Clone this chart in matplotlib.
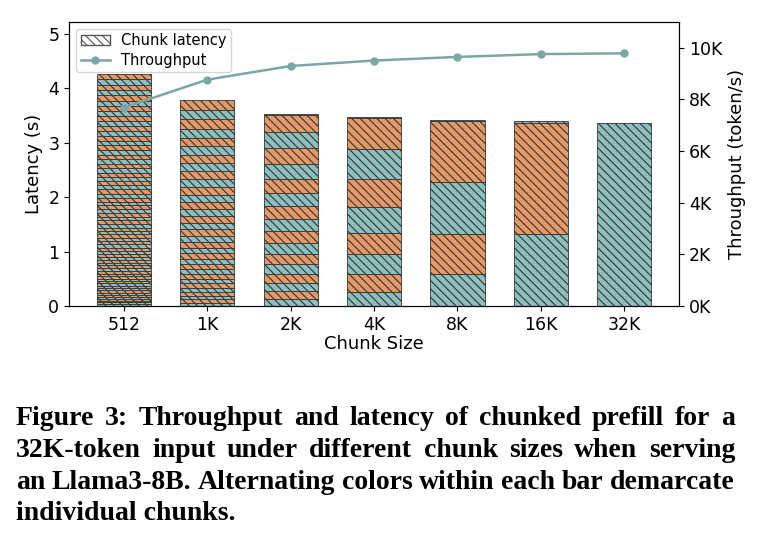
import matplotlib
matplotlib.use("Agg")
import matplotlib.pyplot as plt
from matplotlib.patches import Patch
from matplotlib.lines import Line2D

# chunk sizes on the x axis
chunk_labels = ["512", "1K", "2K", "4K", "8K", "16K", "32K"]

# per-chunk prefill latency (s), bottom chunk first
lat_512 = [0.032, 0.033, 0.034, 0.035, 0.037, 0.038, 0.039, 0.040,
           0.041, 0.042, 0.043, 0.044, 0.045, 0.046, 0.047, 0.049,
           0.050, 0.051, 0.052, 0.053, 0.054, 0.055, 0.056, 0.057,
           0.058, 0.060, 0.061, 0.062, 0.063, 0.064, 0.065, 0.066,
           0.067, 0.068, 0.069, 0.071, 0.072, 0.073, 0.074, 0.075,
           0.076, 0.077, 0.078, 0.079, 0.080, 0.082, 0.083, 0.084,
           0.085, 0.086, 0.087, 0.088, 0.089, 0.090, 0.091, 0.093,
           0.094, 0.095, 0.096, 0.097, 0.098, 0.099, 0.100, 0.101]
lat_1k = [0.060, 0.063, 0.067, 0.072, 0.075, 0.078, 0.083, 0.086,
          0.089, 0.094, 0.098, 0.101, 0.104, 0.109, 0.112, 0.116,
          0.121, 0.123, 0.127, 0.132, 0.134, 0.139, 0.143, 0.146,
          0.149, 0.154, 0.158, 0.161, 0.164, 0.169, 0.172, 0.176]
lat_2k = [0.13, 0.14, 0.15, 0.17, 0.18, 0.19, 0.20, 0.21,
          0.22, 0.24, 0.25, 0.26, 0.27, 0.29, 0.30, 0.31, 0.02]
lat_4k = [0.26, 0.32, 0.37, 0.40, 0.47, 0.51, 0.55, 0.58, 0.02]
lat_8k = [0.58, 0.75, 0.95, 1.11, 0.02]
lat_16k = [1.32, 2.05, 0.02]
lat_32k = [3.37]
chunk_latency = [lat_512, lat_1k, lat_2k, lat_4k, lat_8k, lat_16k, lat_32k]

# throughput (token/s)
throughput = [7680, 8760, 9290, 9500, 9640, 9750, 9780]

teal = "#8DBFBF"
orange = "#E39A68"
line_col = "#7BA6A6"

plt.rcParams["hatch.linewidth"] = 0.8
plt.rcParams["hatch.color"] = "#222222"

fig = plt.figure(figsize=(7.69, 5.45), dpi=100)
ax = fig.add_axes([0.0897, 0.4385, 0.7933, 0.5215])
ax2 = ax.twinx()

x = list(range(len(chunk_labels)))
for i, lats in enumerate(chunk_latency):
    bottom = 0.0
    for j, v in enumerate(lats):
        ax.bar(i, v, width=0.65, bottom=bottom,
               color=teal if j % 2 == 0 else orange,
               edgecolor="#333333", linewidth=0.6, hatch="\\\\\\\\")
        bottom += v

ax.set_ylim(0, 5.22)
ax.set_yticks([0, 1, 2, 3, 4, 5])
ax.set_xticks(x)
ax.set_xticklabels(chunk_labels)
ax.set_xlabel("Chunk Size", fontsize=13, labelpad=1)
ax.set_ylabel("Latency (s)", fontsize=13)
ax.tick_params(labelsize=12.5)

ax2.plot(x, throughput, color=line_col, marker="o", markersize=5, linewidth=1.8)
ax2.set_ylim(0, 11000)
ticks2 = [0, 2000, 4000, 6000, 8000, 10000]
ax2.set_yticks(ticks2)
ax2.set_yticklabels(["%dK" % (t // 1000) for t in ticks2])
ax2.set_ylabel("Throughput (token/s)", fontsize=13)
ax2.tick_params(labelsize=12.5)

handles = [Patch(facecolor="white", edgecolor="#555555", hatch="\\\\\\\\", label="Chunk latency"),
           Line2D([0], [0], color=line_col, marker="o", markersize=5, linewidth=1.8, label="Throughput")]
ax2.legend(handles=handles, loc="upper left", fontsize=10.5, borderaxespad=0.5,
           handlelength=2.0, borderpad=0.3, labelspacing=0.3)

caption = ["Figure 3: Throughput and latency of chunked prefill for a",
           "32K-token input under different chunk sizes when serving",
           "an Llama3-8B. Alternating colors within each bar demarcate",
           "individual chunks."]
baselines = [425, 457, 489, 520]
left_px, width_px = 16, 719
cap_font = dict(family="Liberation Serif", weight="bold")

# pick a size so the longest line fits, then justify the first three lines
renderer = fig.canvas.get_renderer()
fs = 18
widths = []
for line in caption:
    t = fig.text(0, 0, line, fontsize=fs, **cap_font)
    widths.append(t.get_window_extent(renderer).width)
    t.remove()
fs = fs * width_px / max(widths)

for k, (line, yb) in enumerate(zip(caption, baselines)):
    y = 1 - yb / 545
    if k == len(caption) - 1:
        fig.text(left_px / 769, y, line, fontsize=fs, va="baseline", ha="left", **cap_font)
        continue
    words = line.split()
    ww = []
    for wd in words:
        t = fig.text(0, 0, wd, fontsize=fs, **cap_font)
        ww.append(t.get_window_extent(renderer).width)
        t.remove()
    gap = (width_px - sum(ww)) / (len(words) - 1)
    xpos = left_px
    for wd, wpx in zip(words, ww):
        fig.text(xpos / 769, y, wd, fontsize=fs, va="baseline", ha="left", **cap_font)
        xpos += wpx + gap

fig.savefig("out.png", dpi=100)
